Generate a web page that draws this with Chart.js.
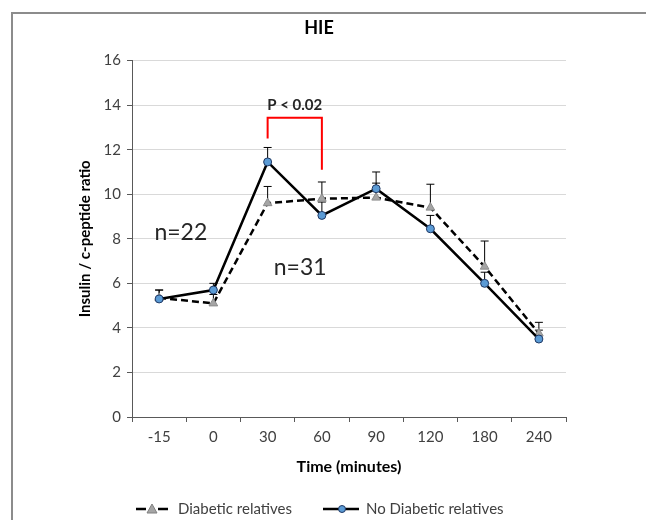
<!DOCTYPE html>
<html>
<head>
<meta charset="utf-8">
<script src="https://cdn.jsdelivr.net/npm/chart.js@4"></script>
<style>
  body { margin: 0; background: #fff; }
  #wrap { width: 646px; height: 520px; }
</style>
</head>
<body>
<div id="wrap"><canvas id="hie"></canvas></div>
<script>
// time points (minutes)
const times = ['-15', '0', '30', '60', '90', '120', '180', '240']
// insulin / c-peptide ratio, means and upper error bars
const noDiab = [5.3, 5.7, 11.45, 9.05, 10.25, 8.45, 6.0, 3.5]
const noDiabErr = [0.4, 0.3, 0.65, 0.6, 0.75, 0.6, 0.5, 0.4]
const diab = [5.35, 5.1, 9.6, 9.8, 9.85, 9.4, 6.75, 3.75]
const diabErr = [0.35, 0.4, 0.75, 0.75, 0.65, 1.05, 1.15, 0.5]
const yTicks = [0, 2, 4, 6, 8, 10, 12, 14, 16]

const FONT = 'Lato, "Open Sans", sans-serif'

// error bars (plus direction only, like Excel)
const errorBars = {
    id: 'errorBars',
    beforeDatasetsDraw(chart) {
        const ctx = chart.ctx
        const x = chart.scales.x, y = chart.scales.y
        const sets = [[noDiab, noDiabErr], [diab, diabErr]]
        ctx.save()
        ctx.strokeStyle = '#000'
        ctx.lineWidth = 1
        sets.forEach(s => {
            s[0].forEach((v, i) => {
                const px = x.getPixelForValue(i)
                const y0 = y.getPixelForValue(v)
                const y1 = y.getPixelForValue(v + s[1][i])
                ctx.beginPath()
                ctx.moveTo(px, y0); ctx.lineTo(px, y1)
                ctx.moveTo(px - 4, y1); ctx.lineTo(px + 4, y1)
                ctx.stroke()
            })
        })
        ctx.restore()
    }
}

// bracket, p value, n labels, legend, frame
const extras = {
    id: 'extras',
    afterDraw(chart) {
        const ctx = chart.ctx
        const x = chart.scales.x, y = chart.scales.y
        ctx.save()

        // outer frame
        ctx.strokeStyle = '#8c8c8c'
        ctx.lineWidth = 2
        ctx.strokeRect(12, 13, 700, 600)

        // significance bracket between 30 and 60 min
        ctx.strokeStyle = '#ff0000'
        ctx.lineWidth = 2
        ctx.beginPath()
        ctx.moveTo(x.getPixelForValue(2), y.getPixelForValue(12.5))
        ctx.lineTo(x.getPixelForValue(2), y.getPixelForValue(13.43))
        ctx.lineTo(x.getPixelForValue(3), y.getPixelForValue(13.43))
        ctx.lineTo(x.getPixelForValue(3), y.getPixelForValue(11.1))
        ctx.stroke()

        ctx.fillStyle = '#262626'
        ctx.textAlign = 'center'
        ctx.textBaseline = 'middle'
        ctx.font = 'bold 15px ' + FONT
        ctx.fillText('P < 0.02', x.getPixelForValue(2.5), y.getPixelForValue(14.0))

        ctx.font = '23px ' + FONT
        ctx.fillText('n=22', x.getPixelForValue(0.4), y.getPixelForValue(8.3))
        ctx.fillText('n=31', x.getPixelForValue(2.6), y.getPixelForValue(6.7))

        // legend
        const ly = 509
        ctx.font = '15px ' + FONT
        ctx.textAlign = 'left'
        ctx.strokeStyle = '#000'
        ctx.lineWidth = 2.5
        ctx.beginPath()
        ctx.moveTo(136, ly); ctx.lineTo(146, ly)
        ctx.moveTo(158, ly); ctx.lineTo(168, ly)
        ctx.stroke()
        ctx.fillStyle = '#a5a5a5'
        ctx.strokeStyle = '#7f7f7f'
        ctx.lineWidth = 1
        ctx.beginPath()
        ctx.moveTo(152, ly - 5); ctx.lineTo(157, ly + 4); ctx.lineTo(147, ly + 4); ctx.closePath()
        ctx.fill(); ctx.stroke()
        ctx.fillStyle = '#404040'
        ctx.fillText('Diabetic relatives', 178, ly)

        ctx.strokeStyle = '#000'
        ctx.lineWidth = 2.5
        ctx.beginPath(); ctx.moveTo(323, ly); ctx.lineTo(359, ly); ctx.stroke()
        ctx.fillStyle = '#5b9bd5'
        ctx.strokeStyle = '#1f3864'
        ctx.lineWidth = 1
        ctx.beginPath(); ctx.arc(342, ly, 3.5, 0, Math.PI * 2); ctx.fill(); ctx.stroke()
        ctx.fillStyle = '#404040'
        ctx.fillText('No Diabetic relatives', 366, ly)

        ctx.restore()
    }
}

new Chart(document.getElementById('hie'), {
    type: 'line',
    data: {
        labels: times,
        datasets: [{
            label: 'No Diabetic relatives',
            data: noDiab,
            borderColor: '#000',
            borderWidth: 2.5,
            pointStyle: 'circle',
            pointRadius: 4,
            pointBackgroundColor: '#5b9bd5',
            pointBorderColor: '#1f3864',
            pointBorderWidth: 1,
            tension: 0
        }, {
            label: 'Diabetic relatives',
            data: diab,
            borderColor: '#000',
            borderWidth: 2.5,
            borderDash: [7, 4],
            pointStyle: 'triangle',
            pointRadius: 5,
            pointBackgroundColor: '#a5a5a5',
            pointBorderColor: '#8c8c8c',
            pointBorderWidth: 1,
            tension: 0
        }]
    },
    plugins: [errorBars, extras],
    options: {
        responsive: true,
        maintainAspectRatio: false,
        animation: false,
        layout: { padding: { left: 72, right: 80, top: 0, bottom: 42 } },
        plugins: {
            legend: { display: false },
            tooltip: { enabled: false },
            title: {
                display: true,
                text: 'HIE',
                color: '#000',
                font: { family: FONT, size: 18, weight: 'bold' },
                padding: { top: 17, bottom: 22 }
            }
        },
        scales: {
            x: {
                offset: true,
                afterFit: s => { s.height = 61 },
                grid: {
                    offset: true,
                    drawOnChartArea: false,
                    tickLength: 5,
                    tickColor: '#595959'
                },
                border: { color: '#595959', width: 1 },
                ticks: { color: '#404040', font: { family: FONT, size: 15 }, padding: 6 },
                title: {
                    display: true,
                    text: 'Time (minutes)',
                    color: '#000',
                    font: { family: FONT, size: 16, weight: 'bold' },
                    padding: { top: 4, bottom: 2 }
                }
            },
            y: {
                min: 0,
                max: 16,
                afterFit: s => { s.width = 60 },
                afterBuildTicks: s => { s.ticks = yTicks.map(v => ({ value: v })) },
                grid: {
                    color: '#d9d9d9',
                    tickLength: 5,
                    tickColor: '#595959'
                },
                border: { color: '#595959', width: 1 },
                ticks: { color: '#404040', font: { family: FONT, size: 15 }, padding: 6 },
                title: {
                    display: true,
                    text: 'Insulin / c-peptide ratio',
                    color: '#000',
                    font: { family: FONT, size: 15, weight: 'bold' }
                }
            }
        }
    }
});
</script>
</body>
</html>
